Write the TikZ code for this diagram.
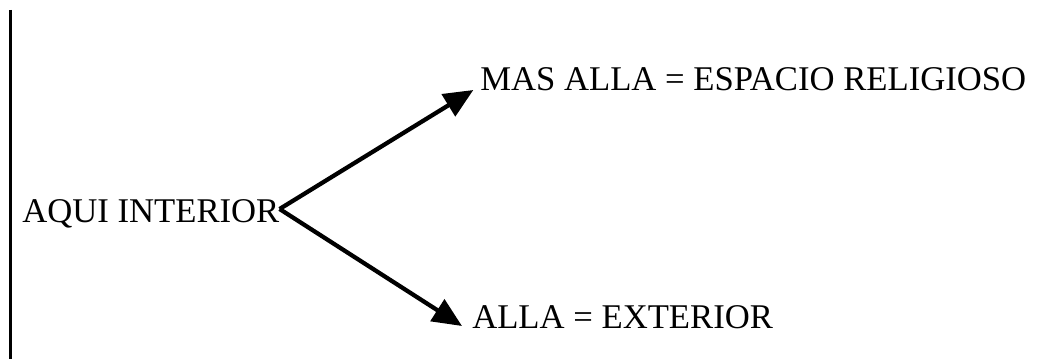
\documentclass[tikz,border=0pt]{standalone}
\usepackage{fontspec}
\setmainfont{Liberation Serif}
\usetikzlibrary{arrows.meta}
\tikzset{
  lbl/.style={inner sep=0pt, font=\fontsize{26pt}{31pt}\selectfont},
  arr/.style={line width=3.2pt, -{Triangle[length=22pt,width=19pt]}},
}
\begin{document}
\begin{tikzpicture}[x=0.75pt,y=-0.75pt]
\useasboundingbox (0,0) rectangle (1038,359);
\coordinate (vtop) at (10.5,10);
\coordinate (vbot) at (10.5,359);
\draw[line width=2.6pt] (vtop) -- (vbot);
\node[lbl, anchor=base west] (aqui) at (22,223) {AQUI INTERIOR};
\node[lbl, anchor=base west] (mas) at (480,91) {MAS ALLA = ESPACIO RELIGIOSO};
\node[lbl, anchor=base west] (alla) at (472,329) {ALLA = EXTERIOR};
\coordinate (apex) at ([xshift=0pt,yshift=10.5pt]aqui.base east);
\draw[arr] (apex) -- ([xshift=-5pt,yshift=0.75pt]mas.base west);
\draw[arr] (apex) -- ([xshift=-7.5pt,yshift=2.25pt]alla.base west);
\end{tikzpicture}
\end{document}
